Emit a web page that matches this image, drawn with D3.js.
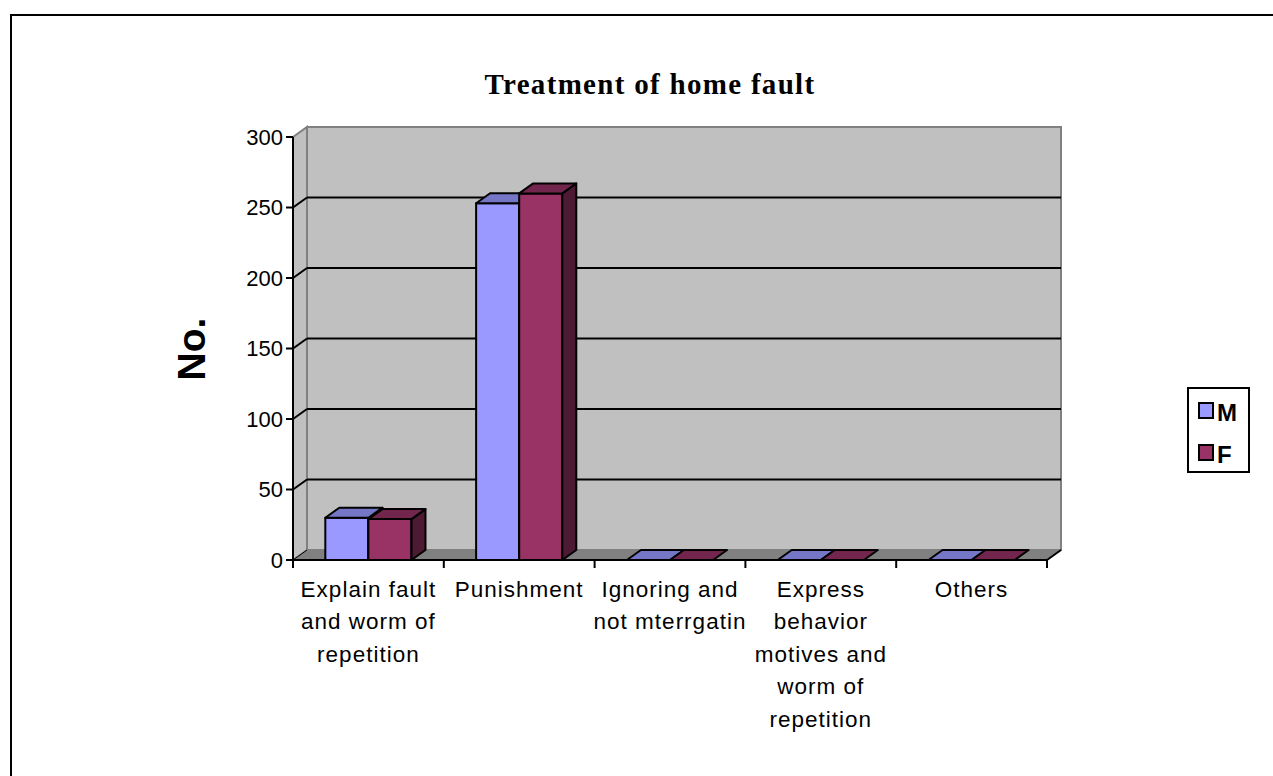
<!DOCTYPE html>
<html>
<head>
<meta charset="utf-8">
<script src="https://cdn.jsdelivr.net/npm/d3@7"></script>
<style>
  html, body { margin: 0; padding: 0; background: #fff; }
  svg { display: block; }
</style>
</head>
<body>
<svg id="chart" width="1273" height="776"></svg>
<script>
// Categories (label lines as wrapped under the axis)
const categories = [
  "Explain fault and worm of repetition",
  "Punishment",
  "Ignoring and not mterrgatin",
  "Express behavior motives and worm of repetition",
  "Others"
];
const categoryLines = [
  ["Explain fault", "and worm of", "repetition"],
  ["Punishment"],
  ["Ignoring and", "not mterrgatin"],
  ["Express", "behavior", "motives and", "worm of", "repetition"],
  ["Others"]
];
const seriesNames = ["M", "F"];
const valuesM = [30, 253, 0, 0, 0];
const valuesF = [29, 260, 0, 0, 0];
const yTicks = [0, 50, 100, 150, 200, 250, 300];

const colors = {
  M: { front: "#9999ff", top: "#7676c6", side: "#5c5c9e" },
  F: { front: "#993366", top: "#73264d", side: "#4d1a33" }
};

const svg = d3.select("#chart");

// Outer frame
svg.append("rect")
  .attr("x", 11).attr("y", 15)
  .attr("width", 1300).attr("height", 800)
  .attr("fill", "none").attr("stroke", "#000").attr("stroke-width", 2);

// Plot geometry
const x0 = 293, x1 = 1047, yBase = 560, yTop = 137;
const dx = 14, dy = 10; // depth offset of the 3D box

const x = d3.scaleBand().domain(categories).range([x0, x1]).paddingInner(0).paddingOuter(0);
const xs = d3.scaleBand().domain(seriesNames).range([0, x.bandwidth()]).paddingInner(0).paddingOuter(0.75);
const y = d3.scaleLinear().domain([0, 300]).range([yBase, yTop]);

const poly = pts => pts.map(p => p.join(",")).join(" ");

// Floor
svg.append("polygon")
  .attr("points", poly([[x0, yBase], [x1, yBase], [x1 + dx, yBase - dy], [x0 + dx, yBase - dy]]))
  .attr("fill", "#808080").attr("stroke", "#808080").attr("stroke-width", 1);

// Side wall
svg.append("polygon")
  .attr("points", poly([[x0, y(300)], [x0 + dx, y(300) - dy], [x0 + dx, yBase - dy], [x0, yBase]]))
  .attr("fill", "#c0c0c0").attr("stroke", "#808080").attr("stroke-width", 2);

// Back wall
svg.append("rect")
  .attr("x", x0 + dx).attr("y", y(300) - dy)
  .attr("width", x1 - x0).attr("height", yBase - y(300))
  .attr("fill", "#c0c0c0").attr("stroke", "#808080").attr("stroke-width", 2);

// Gridlines on back wall and side wall
const grid = svg.append("g");
yTicks.filter(t => t > 0 && t < 300).forEach(t => {
  grid.append("line")
    .attr("x1", x0 + dx).attr("x2", x1 + dx)
    .attr("y1", y(t) - dy).attr("y2", y(t) - dy)
    .attr("stroke", "#000").attr("stroke-width", 2);
  grid.append("line")
    .attr("x1", x0).attr("x2", x0 + dx)
    .attr("y1", y(t)).attr("y2", y(t) - dy)
    .attr("stroke", "#000").attr("stroke-width", 2);
});
// Floor inner edge along the side wall
grid.append("line")
  .attr("x1", x0).attr("x2", x0 + dx)
  .attr("y1", yBase).attr("y2", yBase - dy)
  .attr("stroke", "#000").attr("stroke-width", 1);

// Axes
const axisG = svg.append("g");
// value axis line + ticks
axisG.append("line")
  .attr("x1", x0).attr("x2", x0).attr("y1", y(300)).attr("y2", yBase)
  .attr("stroke", "#000").attr("stroke-width", 2);
yTicks.forEach(t => {
  axisG.append("line")
    .attr("x1", x0 - 7).attr("x2", x0).attr("y1", y(t)).attr("y2", y(t))
    .attr("stroke", "#000").attr("stroke-width", 2);
  axisG.append("text")
    .attr("x", x0 - 10).attr("y", y(t))
    .attr("text-anchor", "end").attr("dominant-baseline", "central")
    .attr("font-family", "Liberation Sans, Arial, sans-serif")
    .attr("font-size", 22).attr("fill", "#000")
    .text(t);
});
// category axis line + ticks
axisG.append("line")
  .attr("x1", x0).attr("x2", x1).attr("y1", yBase).attr("y2", yBase)
  .attr("stroke", "#000").attr("stroke-width", 2);
axisG.append("line")
  .attr("x1", x1).attr("x2", x1 + dx).attr("y1", yBase).attr("y2", yBase - dy)
  .attr("stroke", "#000").attr("stroke-width", 2);
const tickXs = categories.map(c => x(c)).concat([x1]);
tickXs.forEach(tx => {
  axisG.append("line")
    .attr("x1", tx).attr("x2", tx).attr("y1", yBase).attr("y2", yBase + 8)
    .attr("stroke", "#000").attr("stroke-width", 2);
});

// Bars
const barsG = svg.append("g");
categories.forEach((c, i) => {
  const vals = { M: valuesM[i], F: valuesF[i] };
  seriesNames.forEach(s => {
    const bx0 = x(c) + xs(s);
    const bx1 = bx0 + xs.bandwidth();
    const by = y(vals[s]);
    const col = colors[s];
    const g = barsG.append("g").attr("stroke", "#000").attr("stroke-width", 2).attr("stroke-linejoin", "round");
    if (vals[s] > 0) {
      g.append("polygon")
        .attr("points", poly([[bx0, by], [bx1, by], [bx1, yBase], [bx0, yBase]]))
        .attr("fill", col.front);
      g.append("polygon")
        .attr("points", poly([[bx1, by], [bx1 + dx, by - dy], [bx1 + dx, yBase - dy], [bx1, yBase]]))
        .attr("fill", col.side);
    }
    g.append("polygon")
      .attr("points", poly([[bx0, by], [bx1, by], [bx1 + dx, by - dy], [bx0 + dx, by - dy]]))
      .attr("fill", col.top);
  });
});

// Category labels
const labG = svg.append("g")
  .attr("font-family", "Liberation Sans, Arial, sans-serif")
  .attr("font-size", 22.5).attr("fill", "#000")
  .attr("letter-spacing", 1.0)
  .attr("text-anchor", "middle");
categories.forEach((c, i) => {
  const cx = x(c) + x.bandwidth() / 2;
  categoryLines[i].forEach((ln, j) => {
    labG.append("text")
      .attr("x", cx).attr("y", 597 + j * 32.4)
      .text(ln);
  });
});

// Title
svg.append("text")
  .attr("x", 650).attr("y", 94)
  .attr("text-anchor", "middle")
  .attr("font-family", "Liberation Serif, 'Times New Roman', serif")
  .attr("font-weight", "bold").attr("font-size", 29)
  .attr("letter-spacing", 1.3)
  .text("Treatment of home fault");

// Value axis title
svg.append("text")
  .attr("transform", "translate(205,349) rotate(-90)")
  .attr("text-anchor", "middle")
  .attr("font-family", "Liberation Sans, Arial, sans-serif")
  .attr("font-weight", "bold").attr("font-size", 39)
  .text("No.");

// Legend
const leg = svg.append("g");
leg.append("rect")
  .attr("x", 1188).attr("y", 388).attr("width", 61).attr("height", 84)
  .attr("fill", "#fff").attr("stroke", "#000").attr("stroke-width", 2);
seriesNames.forEach((s, i) => {
  const ly = 411 + i * 42;
  leg.append("rect")
    .attr("x", 1199).attr("y", ly - 8).attr("width", 14).attr("height", 15)
    .attr("fill", colors[s].front).attr("stroke", "#000").attr("stroke-width", 2);
  leg.append("text")
    .attr("x", 1217).attr("y", ly + 1)
    .attr("dominant-baseline", "central")
    .attr("font-family", "Liberation Sans, Arial, sans-serif")
    .attr("font-weight", "bold").attr("font-size", 24)
    .text(s);
});
</script>
</body>
</html>
